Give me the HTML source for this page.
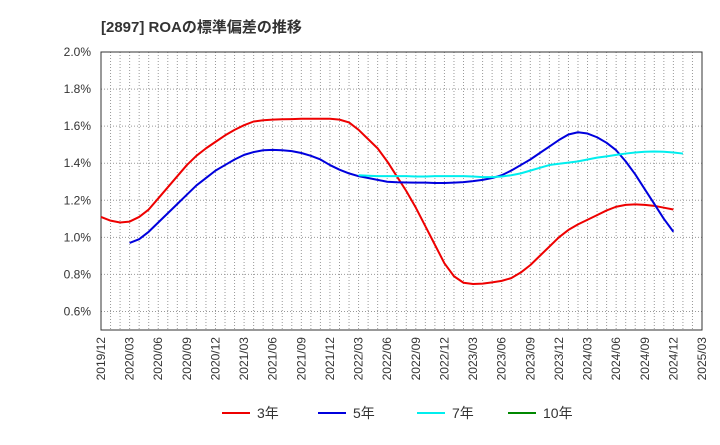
<!DOCTYPE html>
<html><head><meta charset="utf-8"><style>
body{margin:0;background:#fff;font-family:"Liberation Sans","Noto Sans CJK JP",sans-serif}
</style></head><body>
<svg width="720" height="440" xmlns="http://www.w3.org/2000/svg" font-family="Liberation Sans, Noto Sans CJK JP, sans-serif">
<text x="101" y="32" font-size="15" font-weight="bold" fill="#333">[2897]  ROAの標準偏差の推移</text>
<g id="grid"></g><g id="axes"></g><g id="series"></g><g id="legend"></g>
</svg>
<script>
const yTicks=[0.6,0.8,1.0,1.2,1.4,1.6,1.8,2.0];
const xLabels=["2019/12","2020/03","2020/06","2020/09","2020/12","2021/03","2021/06","2021/09","2021/12","2022/03","2022/06","2022/09","2022/12","2023/03","2023/06","2023/09","2023/12","2024/03","2024/06","2024/09","2024/12","2025/03"];
const s3=[1.11,1.09,1.08,1.085,1.11,1.15,1.21,1.27,1.33,1.39,1.44,1.48,1.515,1.55,1.58,1.605,1.625,1.632,1.635,1.637,1.638,1.64,1.64,1.64,1.64,1.635,1.62,1.58,1.53,1.48,1.41,1.33,1.25,1.16,1.06,0.96,0.86,0.79,0.755,0.748,0.75,0.757,0.765,0.78,0.81,0.85,0.9,0.95,1.0,1.04,1.07,1.095,1.12,1.145,1.165,1.175,1.178,1.175,1.17,1.16,1.15];
const s5start=3;
const s5=[0.97,0.99,1.03,1.08,1.13,1.18,1.23,1.28,1.32,1.36,1.39,1.42,1.445,1.46,1.47,1.472,1.47,1.465,1.455,1.44,1.42,1.39,1.365,1.345,1.33,1.32,1.31,1.30,1.297,1.296,1.295,1.295,1.293,1.293,1.295,1.298,1.303,1.31,1.32,1.335,1.36,1.39,1.42,1.455,1.49,1.525,1.555,1.567,1.56,1.54,1.51,1.47,1.41,1.34,1.26,1.18,1.10,1.03];
const s7start=27;
const s7=[1.335,1.332,1.33,1.33,1.33,1.33,1.328,1.328,1.33,1.33,1.33,1.33,1.328,1.325,1.325,1.328,1.335,1.345,1.36,1.375,1.39,1.397,1.403,1.41,1.42,1.43,1.437,1.445,1.452,1.458,1.462,1.463,1.462,1.458,1.452];
const L=101,R=702,T=52,B=330,yMin=0.5,yMax=2.0,months=63;
const X=m=>L+(R-L)*m/months, Y=v=>B-(v-yMin)/(yMax-yMin)*(B-T);
const NS="http://www.w3.org/2000/svg";
function mk(p,t,a){const e=document.createElementNS(NS,t);for(const k in a)e.setAttribute(k,a[k]);p.appendChild(e);return e;}
const g=document.getElementById('grid'),ax=document.getElementById('axes'),se=document.getElementById('series'),lg=document.getElementById('legend');
for(let m=1;m<months;m++){const l=mk(g,'line',{x1:X(m),x2:X(m),y1:T,y2:B,stroke:'#999','stroke-dasharray':'1,2','stroke-width':1});
}
yTicks.forEach(v=>{const l=mk(g,'line',{x1:L,x2:R,y1:Y(v),y2:Y(v),stroke:'#999','stroke-dasharray':'1,2'});

const t=mk(ax,'text',{x:L-10,y:Y(v)+4,'text-anchor':'end','font-size':12,fill:'#333'});t.textContent=v.toFixed(1)+'%';
});
const fr=mk(ax,'rect',{x:L,y:T,width:R-L,height:B-T,fill:'none',stroke:'#333'});

xLabels.forEach((s,i)=>{const x=X(i*3);const t=mk(ax,'text',{x:0,y:0,transform:`translate(${x+4},${B+7}) rotate(-90)`,'text-anchor':'end','font-size':12,fill:'#333'});t.textContent=s;
});
function line(data,start,color,name){const p=mk(se,'polyline',{points:data.map((v,i)=>X(start+i)+','+Y(v)).join(' '),fill:'none',stroke:color,'stroke-width':2,'stroke-linejoin':'round'});
}
line(s3,0,'#e00','line-3yr');line(s5,s5start,'#00d','line-5yr');line(s7,s7start,'#0ee','line-7yr');
[['3年','#e00',222],['5年','#00d',318],['7年','#0ee',417],['10年','#080',508]].forEach(([n,c,x])=>{
const l=mk(lg,'line',{x1:x,x2:x+28,y1:413,y2:413,stroke:c,'stroke-width':2});
const t=mk(lg,'text',{x:x+35,y:418,'font-size':14,fill:'#333'});t.textContent=n;});
</script></body></html>
